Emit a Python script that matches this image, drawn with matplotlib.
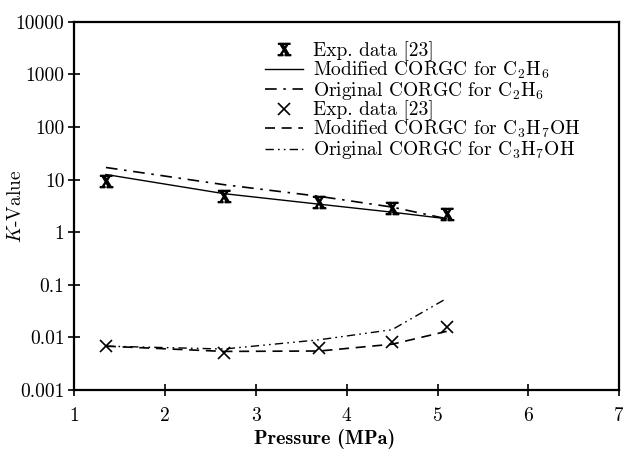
import matplotlib
matplotlib.use("Agg")
import matplotlib.pyplot as plt

plt.rcParams['mathtext.fontset'] = 'cm'
plt.rcParams['font.family'] = ['cmr10', 'DejaVu Serif']
plt.rcParams['axes.formatter.use_mathtext'] = True

# pressures (MPa)
pressure = [1.35, 2.65, 3.7, 4.5, 5.1]

# ethane
c2h6_exp = [9.2, 4.8, 3.7, 2.9, 2.25]
c2h6_mod = [12.5, 5.4, 3.4, 2.4, 1.8]
c2h6_orig = [17.0, 8.0, 4.8, 3.0, 1.8]

# propanol
c3h7oh_exp = [0.0068, 0.0051, 0.0064, 0.0080, 0.016]
c3h7oh_mod = [0.0068, 0.0054, 0.0055, 0.0074, 0.013]
c3h7oh_orig = [0.0068, 0.0060, 0.0090, 0.014, 0.055]

yticks = [0.001, 0.01, 0.1, 1, 10, 100, 1000, 10000]
ytick_labels = ["0.001", "0.01", "0.1", "1", "10", "100", "1000", "10000"]
xticks = [1, 2, 3, 4, 5, 6, 7]

fig = plt.figure(figsize=(6.23, 4.55), dpi=100)
ax = fig.add_axes([0.119, 0.143, 0.875, 0.809])

ax.plot(pressure, c2h6_exp, linestyle='none', marker=r'$\mathbf{X}$', markersize=9,
        color='black', label='Exp. data [23]')
ax.plot(pressure, c2h6_mod, '-', color='black', lw=1.0,
        label=r'Modified CORGC for C$_2$H$_6$')
ax.plot(pressure, c2h6_orig, color='black', lw=1.2, dashes=(7, 4, 1.5, 4),
        label=r'Original CORGC for C$_2$H$_6$')
ax.plot(pressure, c3h7oh_exp, linestyle='none', marker='x', markersize=9,
        markeredgewidth=1.2, color='black', label='Exp. data [23]')
ax.plot(pressure, c3h7oh_mod, color='black', lw=1.2, dashes=(6, 4),
        label=r'Modified CORGC for C$_3$H$_7$OH')
ax.plot(pressure, c3h7oh_orig, color='black', lw=1.0, dashes=(6, 3, 1.2, 3, 1.2, 3),
        label=r'Original CORGC for C$_3$H$_7$OH')

ax.set_yscale('log')
ax.set_xlim(1, 7)
ax.set_ylim(0.001, 10000)
ax.set_yticks(yticks)
ax.set_yticklabels(ytick_labels)
ax.minorticks_off()
ax.set_xticks(xticks)
ax.set_xticklabels([str(v) for v in xticks])
ax.tick_params(direction='inout', length=8, width=1.2, labelsize=14, pad=3)
ax.tick_params(axis='x', pad=8)

for s in ax.spines.values():
    s.set_linewidth(1.6)

ax.set_xlabel('Pressure (MPa)', fontsize=14.5, family=['cmb10', 'DejaVu Serif'])
ax.xaxis.set_label_coords(0.46, -0.105)
ax.set_ylabel(r'$K$-Value', fontsize=14)
ax.yaxis.set_label_coords(-0.09, 0.5)

ax.legend(loc='upper left', bbox_to_anchor=(0.35, 0.948), frameon=False,
          fontsize=14, handlelength=1.95, handletextpad=0.5, labelspacing=-0.06,
          borderpad=0, borderaxespad=0)

fig.savefig('out.png', dpi=100)
